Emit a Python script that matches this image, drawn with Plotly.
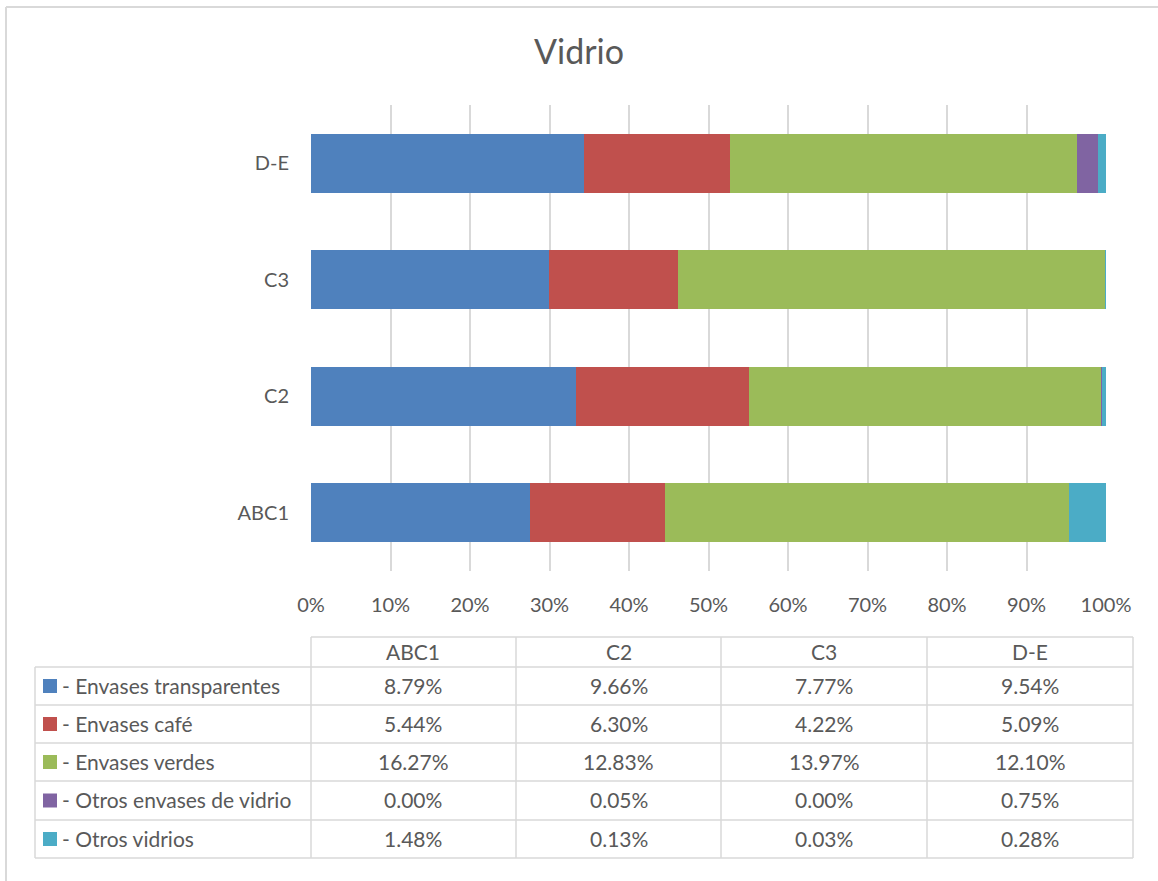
import plotly.graph_objects as go

categories = ["ABC1", "C2", "C3", "D-E"]
series_names = [
    "Envases transparentes",
    "Envases café",
    "Envases verdes",
    "Otros envases de vidrio",
    "Otros vidrios",
]
env_transparentes = [8.79, 9.66, 7.77, 9.54]
env_cafe = [5.44, 6.30, 4.22, 5.09]
env_verdes = [16.27, 12.83, 13.97, 12.10]
otros_envases = [0.00, 0.05, 0.00, 0.75]
otros_vidrios = [1.48, 0.13, 0.03, 0.28]
series_values = [env_transparentes, env_cafe, env_verdes, otros_envases, otros_vidrios]
colors = ["#4F81BD", "#C0504D", "#9BBB59", "#8064A2", "#4BACC6"]
x_ticks = [0, 10, 20, 30, 40, 50, 60, 70, 80, 90, 100]
x_tick_labels = [f"{v}%" for v in x_ticks]

W, H = 1158, 881
FONT = "Lato"
TXT = "#595959"
GRID = "#D9D9D9"


def px(x):
    return x / W


def py(y):
    return 1 - y / H


fig = go.Figure()
for name, vals, col in zip(series_names, series_values, colors):
    fig.add_trace(go.Bar(
        y=categories, x=vals, name=name, orientation="h",
        marker=dict(color=col, line=dict(width=0)),
    ))

shapes = []
annotations = []

# outer chart border (left and top visible)
shapes.append(dict(type="line", xref="paper", yref="paper", x0=px(6), x1=px(1160),
                   y0=py(7), y1=py(7), line=dict(color=GRID, width=2)))
shapes.append(dict(type="line", xref="paper", yref="paper", x0=px(6), x1=px(6),
                   y0=py(7), y1=py(884), line=dict(color=GRID, width=2)))

# data table
col_edges = [35, 311, 516, 721, 927, 1133]
row_edges = [637, 667, 705, 743, 781, 820, 858]
lc = dict(color=GRID, width=1.5)
shapes.append(dict(type="line", xref="paper", yref="paper", x0=px(311), x1=px(1133),
                   y0=py(row_edges[0]), y1=py(row_edges[0]), line=lc))
for r in row_edges[1:]:
    shapes.append(dict(type="line", xref="paper", yref="paper", x0=px(35), x1=px(1133),
                       y0=py(r), y1=py(r), line=lc))
shapes.append(dict(type="line", xref="paper", yref="paper", x0=px(35), x1=px(35),
                   y0=py(row_edges[1]), y1=py(row_edges[-1]), line=lc))
for c in col_edges[1:]:
    shapes.append(dict(type="line", xref="paper", yref="paper", x0=px(c), x1=px(c),
                       y0=py(row_edges[0]), y1=py(row_edges[-1]), line=lc))

fs = 21
for j, cat in enumerate(categories):
    cx = (col_edges[j + 1] + col_edges[j + 2]) / 2
    cy = (row_edges[0] + row_edges[1]) / 2 - 1
    annotations.append(dict(xref="paper", yref="paper", x=px(cx), y=py(cy), text=cat,
                            showarrow=False, font=dict(family=FONT, size=fs, color=TXT),
                            xanchor="center", yanchor="middle"))
for i, (name, vals, col) in enumerate(zip(series_names, series_values, colors)):
    top, bot = row_edges[i + 1], row_edges[i + 2]
    cy = (top + bot) / 2
    shapes.append(dict(type="rect", xref="paper", yref="paper", x0=px(43), x1=px(57),
                       y0=py(cy - 7), y1=py(cy + 7), fillcolor=col, line=dict(width=0)))
    annotations.append(dict(xref="paper", yref="paper", x=px(60), y=py(cy - 1), text="- " + name,
                            showarrow=False, font=dict(family=FONT, size=fs, color=TXT),
                            xanchor="left", yanchor="middle"))
    for j, v in enumerate(vals):
        cx = (col_edges[j + 1] + col_edges[j + 2]) / 2
        annotations.append(dict(xref="paper", yref="paper", x=px(cx), y=py(cy - 1),
                                text=f"{v:.2f}%", showarrow=False,
                                font=dict(family=FONT, size=fs, color=TXT),
                                xanchor="center", yanchor="middle"))

fig.update_layout(
    width=W, height=H,
    margin=dict(l=0, r=0, t=0, b=0, pad=0, autoexpand=False),
    paper_bgcolor="white", plot_bgcolor="white",
    barmode="stack", barnorm="percent", bargap=0.49,
    showlegend=False,
    title=dict(text="Vidrio", x=0.5, xanchor="center", y=py(52), yanchor="middle",
               font=dict(family=FONT, size=34, color=TXT)),
    shapes=shapes, annotations=annotations,
    font=dict(family=FONT, color=TXT),
)
fig.update_xaxes(
    domain=[px(311), px(1106)], range=[0, 100],
    tickvals=x_ticks, ticktext=x_tick_labels, automargin=False,
    showgrid=True, gridcolor=GRID, gridwidth=1.5, zeroline=False, showline=False,
    ticks="", ticklabelstandoff=20,
    tickfont=dict(family=FONT, size=20, color=TXT), fixedrange=True,
)
fig.update_yaxes(
    domain=[py(571), py(105)], automargin=False,
    categoryorder="array", categoryarray=categories,
    showgrid=False, zeroline=False, showline=False,
    ticks="", ticklabelstandoff=21,
    tickfont=dict(family=FONT, size=20, color=TXT), fixedrange=True,
)

fig.write_html(
    "out.html",
    config={"displayModeBar": False},
    post_script="document.body.style.margin='0';document.body.style.overflow='hidden';",
)
